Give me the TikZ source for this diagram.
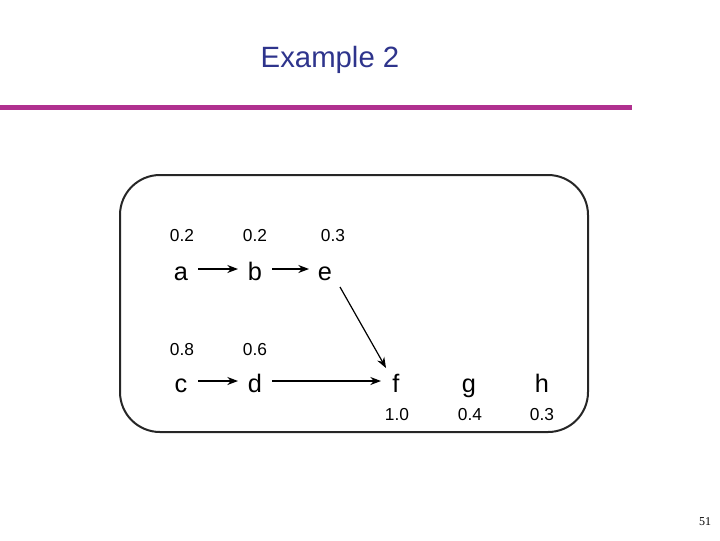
\documentclass[tikz,border=0pt]{standalone}
\usepackage{fontspec}
\setmainfont{Liberation Sans}
\newfontfamily\serifnum{Liberation Serif}
\usetikzlibrary{arrows.meta}
\definecolor{titleblue}{RGB}{46,52,140}
\definecolor{barmag}{RGB}{176,48,143}
\tikzset{
  letter/.style={font=\fontsize{19}{21}\selectfont, inner sep=0pt, anchor=base},
  prob/.style={font=\fontsize{13}{15}\selectfont, inner sep=1pt},
  edge/.style={-{Stealth[length=8pt,width=6pt]}, line width=0.9pt}
}
\begin{document}
\begin{tikzpicture}[x=0.75pt,y=-0.75pt]
\useasboundingbox (0,0) rectangle (720,540);
\node[font=\fontsize{22}{25}\selectfont, text=titleblue] (title) at (330,60) {Example 2};
\fill[barmag] (0,105) rectangle (632,109.5);
\draw[line width=1.5pt, rounded corners=30pt, black!85] (120,175) rectangle (588,432);
\node[letter] (a) at (181,280) {a};
\node[letter] (b) at (255,280) {b};
\node[letter] (e) at (325,280) {e};
\node[letter] (c) at (181,392) {c};
\node[letter] (d) at (255,392) {d};
\node[letter] (f) at (396,392) {f};
\node[letter] (g) at (469,392) {g};
\node[letter] (h) at (542,392) {h};
\node[prob] (pa) at (182,236) {0.2};
\node[prob] (pb) at (255,236) {0.2};
\node[prob] (pe) at (333,236) {0.3};
\node[prob] (pc) at (182,350) {0.8};
\node[prob] (pd) at (255,350) {0.6};
\node[prob] (pf) at (397,415) {1.0};
\node[prob] (pg) at (470,415) {0.4};
\node[prob] (ph) at (542,415) {0.3};
\coordinate (a1) at (198,269);
\coordinate (b0) at (238,269);
\coordinate (b1) at (272,269);
\coordinate (e0) at (309,269);
\coordinate (c1) at (198,381);
\coordinate (d0) at (238,381);
\coordinate (d1) at (272,381);
\coordinate (f0) at (381,381);
\coordinate (e1) at (340,287);
\coordinate (f1) at (386,368);
\draw[edge] (a1) -- (b0);
\draw[edge] (b1) -- (e0);
\draw[edge] (c1) -- (d0);
\draw[edge] (d1) -- (f0);
\draw[edge] (e1) -- (f1);
\node[font=\serifnum\fontsize{9}{11}\selectfont] (num) at (705,522) {51};
\end{tikzpicture}
\end{document}
